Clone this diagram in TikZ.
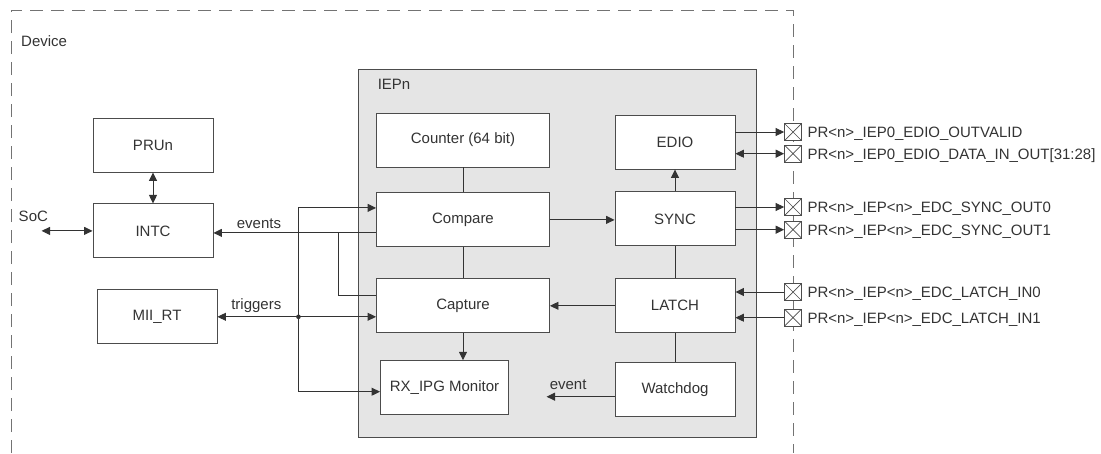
\documentclass[tikz,border=0pt]{standalone}
\usepackage{fontspec}
\setmainfont{Liberation Sans}
\usetikzlibrary{arrows.meta, calc, positioning}
\colorlet{ink}{black!80}

\begin{document}
\begin{tikzpicture}[
    x=1pt, y=-1pt,
    >={Triangle[length=8.5pt, width=8pt]},
    font=\fontsize{15}{18}\selectfont,
    text=ink,
    block/.style={
        draw=black!70,
        fill=white,
        line width=0.9pt,
        minimum width=120pt,
        minimum height=54pt,
        inner sep=0pt
    },
    wide/.style={block, minimum width=173pt},
    iopin/.style={
        draw=black!70, fill=white, line width=0.7pt,
        minimum size=17pt, inner sep=0pt,
        path picture={\draw[black!70, line width=0.7pt]
            (path picture bounding box.south west) -- (path picture bounding box.north east)
            (path picture bounding box.north west) -- (path picture bounding box.south east);}
    },
    pinlbl/.style={anchor=base west, inner sep=0pt},
    tag/.style={above, inner sep=4pt},
    link/.style={draw=ink, line width=0.9pt},
    arr/.style={link, ->},
    both/.style={link, <->}
]
\useasboundingbox (0,0) rectangle (1101,453);

% device frame and IEP block
\draw[black!55, line width=0.8pt, dash pattern=on 13pt off 8pt]
    (11,453) -- (11,10) -- (793,10) -- (793,453);
\node[pinlbl] (devlbl) at (21,46) {Device};
\node[draw=black!70, fill=black!10, line width=0.9pt, minimum width=398pt,
      minimum height=368pt, inner sep=0pt] (iep) at (557,253) {};
\node[pinlbl] (ieplbl) at ([xshift=20pt, yshift=-21pt]iep.north west) {IEPn};

% left column
\node[block] (prun) at (153,145) {PRUn};
\node[block, below=31pt of prun] (intc) {INTC};
\node[block, below=31pt of intc, xshift=4pt] (mii) {MII\_RT};

% IEP inner blocks
\node[wide] (counter) at (463,140) {Counter (64 bit)};
\node[wide, below=25pt of counter] (compare) {Compare};
\node[wide, below=31pt of compare] (capture) {Capture};
\node[block, minimum width=128pt, below right=27pt and 4pt of capture.south west] (rx) {RX\_IPG Monitor};

\node[block] (edio) at (675,142) {EDIO};
\node[block, below=22pt of edio] (sync) {SYNC};
\node[block, below=32pt of sync] (latch) {LATCH};
\node[block, below=29pt of latch] (wdog) {Watchdog};

% pins on the device edge
\node[iopin] (pov) at (793,132) {};
\node[iopin, below=4pt of pov] (pdio) {};
\node[iopin] (ps0) at (793,207) {};
\node[iopin, below=5pt of ps0] (ps1) {};
\node[iopin] (pl0) at (793,292) {};
\node[iopin, below=8pt of pl0] (pl1) {};

\node[pinlbl] at ($(pov.east)+(5.5,5.3)$) {PR<n>\_IEP0\_EDIO\_OUTVALID};
\node[pinlbl] at ($(pdio.east)+(5.5,5.3)$) {PR<n>\_IEP0\_EDIO\_DATA\_IN\_OUT[31:28]};
\node[pinlbl] at ($(ps0.east)+(5.5,5.3)$) {PR<n>\_IEP<n>\_EDC\_SYNC\_OUT0};
\node[pinlbl] at ($(ps1.east)+(5.5,5.3)$) {PR<n>\_IEP<n>\_EDC\_SYNC\_OUT1};
\node[pinlbl] at ($(pl0.east)+(5.5,5.3)$) {PR<n>\_IEP<n>\_EDC\_LATCH\_IN0};
\node[pinlbl] at ($(pl1.east)+(5.5,5.3)$) {PR<n>\_IEP<n>\_EDC\_LATCH\_IN1};

\draw[arr] (edio.east |- pov) -- (pov);
\draw[both] (edio.east |- pdio) -- (pdio);
\draw[arr] (sync.east |- ps0) -- (ps0);
\draw[arr] (sync.east |- ps1) -- (ps1);
\draw[arr] (pl0) -- (pl0 -| latch.east);
\draw[arr] (pl1) -- (pl1 -| latch.east);

% left side links
\draw[both] (prun) -- (intc);
\coordinate (soc) at ([xshift=-51pt]intc.west);
\draw[both] (soc) -- (intc);
\node[pinlbl] at ($(soc)+(-23,-9)$) {SoC};

\coordinate (evtap) at ([yshift=-13pt]compare.west);
\draw[arr] (evtap) -- (evtap -| intc.east) node[tag, pos=0.72] {events};
\coordinate (capbr) at ($(evtap)+(-38,0)$);
\draw[link] (capbr) |- ([yshift=10pt]capture.west);

\coordinate (trg) at ([xshift=81pt]mii.east);
\draw[arr] (trg) -- (mii.east) node[tag, pos=0.52] {triggers};
\draw[arr] (trg) -- (trg -| capture.west);
\draw[arr] (trg) |- ([yshift=12pt]compare.west);
\draw[arr] (trg) |- ([yshift=-4pt]rx.west);
\fill[ink] (trg) circle (2.3pt);

% inside IEP
\draw[link] (counter) -- (compare);
\draw[link] (compare) -- (capture);
\draw[arr] (capture.south) -- (capture.south |- rx.north);
\draw[arr] (compare.east) -- (compare.east -| sync.west);
\draw[arr] (sync) -- (edio);
\draw[link] (sync) -- (latch);
\draw[link] (latch) -- (wdog);
\draw[arr] (latch.west) -- (latch.west -| capture.east);
\coordinate (evout) at ([yshift=-7pt, xshift=-68pt]wdog.west);
\draw[arr] ([yshift=-7pt]wdog.west) -- (evout);
\node[pinlbl] at ($(evout)+(3,-7)$) {event};
\end{tikzpicture}
\end{document}
